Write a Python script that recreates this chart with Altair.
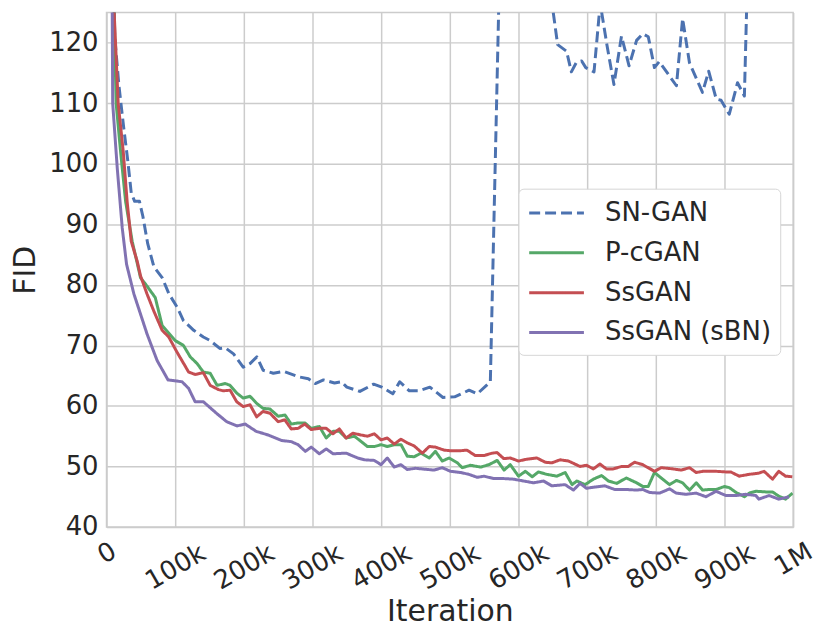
import altair as alt
import pandas as pd

SERIES = ["SN-GAN", "P-cGAN", "SsGAN", "SsGAN (sBN)"]
COLORS = ["#4C72B0", "#55A868", "#C44E52", "#8172B2"]
DASHES = [[11, 5], [1, 0], [1, 0], [1, 0]]

X_TICKS = [0, 100000, 200000, 300000, 400000, 500000, 600000, 700000, 800000, 900000, 1000000]
X_LABELS = ["0", "100k", "200k", "300k", "400k", "500k", "600k", "700k", "800k", "900k", "1M"]
Y_TICKS = [40, 50, 60, 70, 80, 90, 100, 110, 120]

# iterations in thousands
SN_GAN_ITER = [5, 12, 18, 25, 31, 36, 41, 48, 53, 60, 69, 81, 91, 103, 112, 127, 141, 151, 165, 173,
               185, 199, 209, 219, 228, 243, 258, 280, 294, 304, 316, 332, 342, 350, 369, 389, 401, 417,
               427, 441, 455, 471, 490, 507, 528, 540, 559, 575, 595, 615, 640, 650, 657, 670, 677, 684,
               692, 698, 710, 719, 729, 739, 750, 761, 772, 781, 789, 798, 805, 830, 839, 849, 868, 877,
               888, 895, 907, 919, 929, 940, 960, 1000]
SN_GAN_FID = [160, 121, 113, 106, 100.5, 95.2, 93.8, 93.8, 91.3, 86.8, 83, 81.2, 78.5, 76.3, 74.1, 72.5,
              71.4, 70.8, 69.5, 69.6, 68.6, 66.4, 67.0, 68.1, 65.9, 65.4, 65.7, 64.8, 64.5, 63.7, 64.3,
              63.8, 64.0, 63.1, 62.4, 63.6, 63.1, 62.0, 64.0, 62.5, 62.5, 63.1, 61.4, 61.5, 62.6, 62.0,
              64.0, 145, 190, 210, 200, 125.5, 119.7, 118.6, 115.2, 116.7, 117.0, 115.9, 115.2, 126.5,
              119.5, 113.1, 121.1, 116.2, 120.4, 121.5, 121.0, 115.9, 116.9, 112.9, 124.0, 116.7, 111.8,
              115.3, 110.7, 110.5, 108.2, 113.4, 111.2, 160, 200, 220]

P_CGAN_ITER = [5, 10, 14, 20.5, 27.8, 37.4, 49.5, 59, 71, 81, 100, 112, 122, 132, 141, 151, 161, 173, 180,
               190, 199, 209, 219, 228, 238, 250, 260, 269, 279, 289, 298, 310, 320, 330, 339, 349, 361,
               380, 390, 400, 409, 419, 429, 438, 448, 458, 470, 479, 489, 499, 511, 518, 530, 545, 557,
               569, 579, 588, 600, 610, 620, 629, 641, 656, 668, 678, 685, 697, 709, 721, 731, 743, 757,
               772, 781, 789, 798, 810, 820, 830, 839, 849, 859, 868, 878, 888, 900, 907, 917, 929, 936,
               946, 960, 970, 979, 989, 999]
P_CGAN_FID = [200, 130, 110, 102, 93.8, 87.2, 81.2, 79.8, 77.9, 73.3, 70.8, 70.0, 68.1, 67.0, 65.6, 65.4,
              63.4, 63.7, 63.4, 62.1, 61.3, 61.6, 60.4, 59.6, 59.5, 58.3, 58.5, 57.0, 57.2, 57.2, 56.3,
              56.6, 54.7, 55.8, 55.8, 54.7, 55.0, 53.3, 53.3, 53.6, 53.3, 53.6, 53.6, 51.7, 51.6, 52.2,
              51.4, 52.5, 50.9, 51.4, 50.6, 49.8, 50.2, 49.9, 50.3, 51.0, 49.4, 50.3, 48.4, 49.2, 48.3,
              49.1, 48.7, 48.4, 49.0, 47.0, 47.6, 47.0, 47.9, 48.5, 47.6, 47.2, 48.1, 47.3, 46.7, 46.7,
              49.0, 47.9, 47.0, 47.7, 47.3, 46.1, 47.3, 46.1, 46.2, 46.2, 46.7, 46.5, 45.7, 45.0, 45.6,
              45.9, 45.8, 45.8, 45.1, 44.6, 45.6]

SSGAN_ITER = [5, 10, 17, 24.4, 30, 36, 44.7, 49.5, 59, 68.8, 81, 90.6, 102.6, 119.6, 129, 141, 151, 163,
              170, 180, 189.6, 199, 209, 218.6, 228, 238, 250, 259.7, 269, 279, 288.7, 298, 310, 320,
              329.7, 339, 349, 358.7, 370.7, 380, 390, 399.7, 409, 419, 428.7, 438, 448, 460, 470, 479,
              491.6, 501, 515.7, 525, 537, 549.6, 561.6, 568.8, 578.5, 588, 600, 612, 626.8, 639, 648.6,
              660.6, 672.8, 689.6, 699, 709, 718.6, 728, 738, 750, 759.7, 769, 781, 798, 808, 825, 837,
              849, 858.7, 868.4, 887.7, 902, 909, 921.4, 936, 950, 957.7, 970, 979, 989, 998.8]
SSGAN_FID = [200, 128, 110, 102, 93.8, 87.2, 83.9, 81.5, 78.5, 75.7, 72.5, 71.4, 68.9, 65.6, 65.2, 65.5,
             63.4, 62.7, 62.5, 62.6, 60.7, 59.9, 60.2, 58.2, 59.1, 58.8, 57.4, 57.7, 56.2, 56.3, 57.0,
             56.1, 56.3, 56.3, 55.4, 56.2, 54.7, 55.5, 55.2, 55.0, 55.4, 54.4, 54.7, 53.7, 54.5, 53.9,
             53.4, 52.2, 53.3, 53.2, 52.7, 52.6, 52.6, 52.7, 51.8, 51.8, 52.2, 52.3, 51.3, 51.4, 50.9,
             51.2, 51.4, 50.7, 50.6, 51.1, 50.9, 50.0, 50.2, 49.6, 50.4, 49.6, 49.6, 50.0, 50.0, 50.7,
             50.3, 49.2, 49.8, 49.6, 49.4, 49.8, 49.0, 49.2, 49.2, 49.1, 49.1, 48.4, 48.7, 48.9, 49.2,
             47.9, 49.2, 48.4, 48.3]

SSGAN_SBN_ITER = [5, 9, 15.7, 22.9, 29.2, 39.9, 59, 73.7, 89.6, 110, 119.6, 129, 141, 160, 175, 190, 202,
                  218, 235.5, 254.8, 269, 279, 289.6, 298, 310, 320, 330, 349, 366, 375.6, 390, 399.7,
                  409, 419, 428.7, 438, 450, 477, 489, 501, 515.7, 527.8, 540, 549.6, 564, 578.6, 593,
                  607.5, 622, 636.5, 648.6, 667.8, 680, 689.6, 699, 711, 725.8, 740, 757, 771.7, 781,
                  791, 805.5, 820, 829.7, 844, 858.7, 873, 887.7, 902, 916.7, 931, 945.6, 950, 965, 979,
                  994]
SSGAN_SBN_FID = [200, 110, 99.2, 89.4, 83.4, 78.5, 71.9, 67.5, 64.3, 64.0, 62.9, 60.7, 60.7, 58.8, 57.4,
                 56.7, 57.0, 55.8, 55.2, 54.3, 54.1, 53.6, 52.5, 53.2, 52.1, 52.9, 52.1, 52.2, 51.4,
                 51.1, 51.0, 50.3, 51.4, 49.9, 50.3, 49.5, 49.7, 49.4, 49.8, 49.2, 49.0, 48.7, 48.2,
                 48.4, 48.0, 48.0, 47.9, 47.6, 47.3, 47.6, 46.8, 47.0, 46.1, 47.2, 46.4, 46.6, 46.8,
                 46.2, 46.2, 46.1, 46.2, 45.7, 45.6, 46.3, 45.6, 45.4, 45.6, 45.0, 45.9, 45.2, 45.2,
                 45.4, 45.2, 44.6, 45.2, 44.6, 45.0]

rows = []
for name, its, fids in [
    ("SN-GAN", SN_GAN_ITER, SN_GAN_FID),
    ("P-cGAN", P_CGAN_ITER, P_CGAN_FID),
    ("SsGAN", SSGAN_ITER, SSGAN_FID),
    ("SsGAN (sBN)", SSGAN_SBN_ITER, SSGAN_SBN_FID),
]:
    for it, f in zip(its, fids):
        rows.append({"series": name, "iteration": it * 1000, "fid": f})
df = pd.DataFrame(rows)

label_expr = " : ".join(
    f"datum.value == {v} ? '{l}'" for v, l in zip(X_TICKS, X_LABELS)
) + " : ''"

FONT = "DejaVu Sans"
TEXT = "#262626"

legend_props = dict(
    title=None, orient="none", legendX=414, legendY=177,
    symbolType="M-1,0H3", symbolSize=756, symbolStrokeWidth=3,
    labelFontSize=26, labelFont=FONT, labelColor=TEXT, labelOffset=47,
    rowPadding=11, padding=9, fillColor="white", strokeColor="#d6d6d6",
    cornerRadius=5, labelLimit=400,
)

chart = alt.Chart(df).mark_line(clip=True, strokeWidth=3, strokeJoin="round").encode(
    x=alt.X("iteration:Q",
            scale=alt.Scale(domain=[0, 1000000], nice=False),
            axis=alt.Axis(values=X_TICKS, labelExpr=label_expr, title="Iteration",
                          labelAngle=-30, labelAlign="center", labelBaseline="middle",
                          labelOverlap=False, labelBound=False, labelFlush=False,
                          labelPadding={"condition": [{"test": "datum.value == 0", "value": 26},
                                                      {"test": "datum.value == 1000000", "value": 32}],
                                        "value": 40},
                          titlePadding=3)),
    y=alt.Y("fid:Q",
            scale=alt.Scale(domain=[40, 125], nice=False, zero=False),
            axis=alt.Axis(values=Y_TICKS, title="FID", labelPadding=8.5, titlePadding=8,
                          labelOverlap=False)),
    color=alt.Color("series:N", scale=alt.Scale(domain=SERIES, range=COLORS),
                    legend=alt.Legend(**legend_props)),
    strokeDash=alt.StrokeDash("series:N", scale=alt.Scale(domain=SERIES, range=DASHES),
                              legend=alt.Legend(**legend_props)),
).properties(
    width=690, height=517,
    autosize=alt.AutoSizeParams(type="none"),
    padding={"left": 99, "top": 3, "right": 30, "bottom": 110},
).configure_view(
    stroke="#cccccc", strokeWidth=1.5,
).configure_axis(
    grid=True, gridColor="#cccccc", gridWidth=1.5, domain=False, ticks=False, tickSize=0,
    labelFont=FONT, labelFontSize=26, labelColor=TEXT,
    titleFont=FONT, titleFontSize=30, titleColor=TEXT, titleFontWeight="normal",
)

chart.save("out.html", embed_options={"renderer": "svg", "actions": False})
